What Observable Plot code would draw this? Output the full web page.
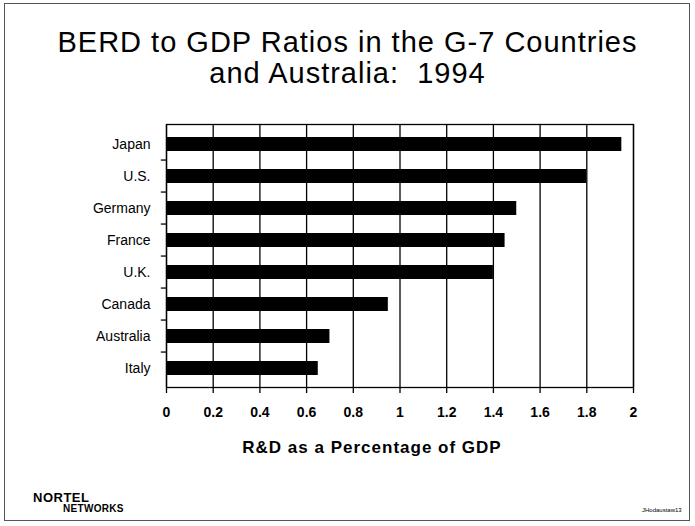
<!DOCTYPE html>
<html>
<head>
<meta charset="utf-8">
<script src="https://cdn.jsdelivr.net/npm/d3@7"></script>
<script src="https://cdn.jsdelivr.net/npm/@observablehq/plot@0.6"></script>
<style>
  html, body { margin: 0; padding: 0; background: #fff; }
  #wrap { position: relative; width: 695px; height: 526px; overflow: hidden; font-family: "Liberation Sans", Arial, Helvetica, sans-serif; color: #000; }
  #border { position: absolute; left: 4px; top: 3px; width: 686px; height: 518px; border: 1.5px solid #555; box-sizing: border-box; }
  #title { position: absolute; left: 0; width: 695px; top: 27px; text-align: center; font-size: 29px; line-height: 31px; letter-spacing: 1px; }
  #xlabel { position: absolute; left: 172px; width: 400px; top: 439px; text-align: center; font-size: 17px; line-height: 17px; letter-spacing: 1px; font-weight: bold; }
  #logo1 { position: absolute; left: 33px; top: 491px; font-size: 13px; line-height: 13px; font-weight: bold; letter-spacing: 0.5px; }
  #logo2 { position: absolute; left: 63px; top: 504px; font-size: 10px; line-height: 10px; font-weight: bold; letter-spacing: 0.3px; }
  #code { position: absolute; left: 642px; top: 507px; font-size: 6px; line-height: 6px; }
  #chart { position: absolute; left: 0; top: 0; }
</style>
</head>
<body>
<div id="wrap">
  <div id="border"></div>
  <div id="title">BERD to GDP Ratios in the G-7 Countries<br>and Australia:&nbsp; 1994</div>
  <div id="chart"></div>
  <div id="xlabel">R&amp;D as a Percentage of GDP</div>
  <div id="logo1">NORTEL</div>
  <div id="logo2">NETWORKS</div>
  <div id="code">JHodaustaw13</div>
</div>
<script>
const countries = ["Japan", "U.S.", "Germany", "France", "U.K.", "Canada", "Australia", "Italy"];
const values = [1.95, 1.80, 1.50, 1.45, 1.40, 0.95, 0.70, 0.65];
const xTicks = [0, 0.2, 0.4, 0.6, 0.8, 1, 1.2, 1.4, 1.6, 1.8, 2];
const xTickLabels = ["0", "0.2", "0.4", "0.6", "0.8", "1", "1.2", "1.4", "1.6", "1.8", "2"];

const data = countries.map((c, i) => ({country: c, value: values[i]}));

const W = 695, H = 526;
const mTop = 124, mBottom = H - 387, mLeft = 166, mRight = W - 633;
const step = (H - mTop - mBottom) / countries.length;

const chart = Plot.plot({
  width: W,
  height: H,
  marginTop: mTop,
  marginBottom: mBottom,
  marginLeft: mLeft,
  marginRight: mRight,
  style: {fontFamily: "'Liberation Sans', Arial, Helvetica, sans-serif", background: "transparent", color: "#000"},
  x: {domain: [0, 2], ticks: xTicks, label: null},
  y: {domain: countries, padding: 0, label: null},
  marks: [
    Plot.gridX(xTicks, {stroke: "#000", strokeOpacity: 1, strokeWidth: 1.3}),
    Plot.barX(data, {x: "value", y: "country", fill: "#000", insetTop: 9, insetBottom: 9}),
    Plot.frame({stroke: "#000", strokeWidth: 1.3}),
    Plot.ruleY(countries.slice(1), {y: d => d, x1: -0.022, x2: 0, dy: -step / 2, stroke: "#000", strokeWidth: 1.3, clip: false}),
    Plot.axisX({ticks: xTicks, tickFormat: d => xTickLabels[xTicks.indexOf(d)], tickSize: 6, tickPadding: 14, fontSize: 14, fontWeight: "bold", label: null, stroke: "#000", strokeWidth: 1.3}),
    Plot.axisY({tickSize: 0, tickPadding: 16, fontSize: 14, label: null})
  ]
});
document.getElementById("chart").appendChild(chart);
</script>
</body>
</html>
